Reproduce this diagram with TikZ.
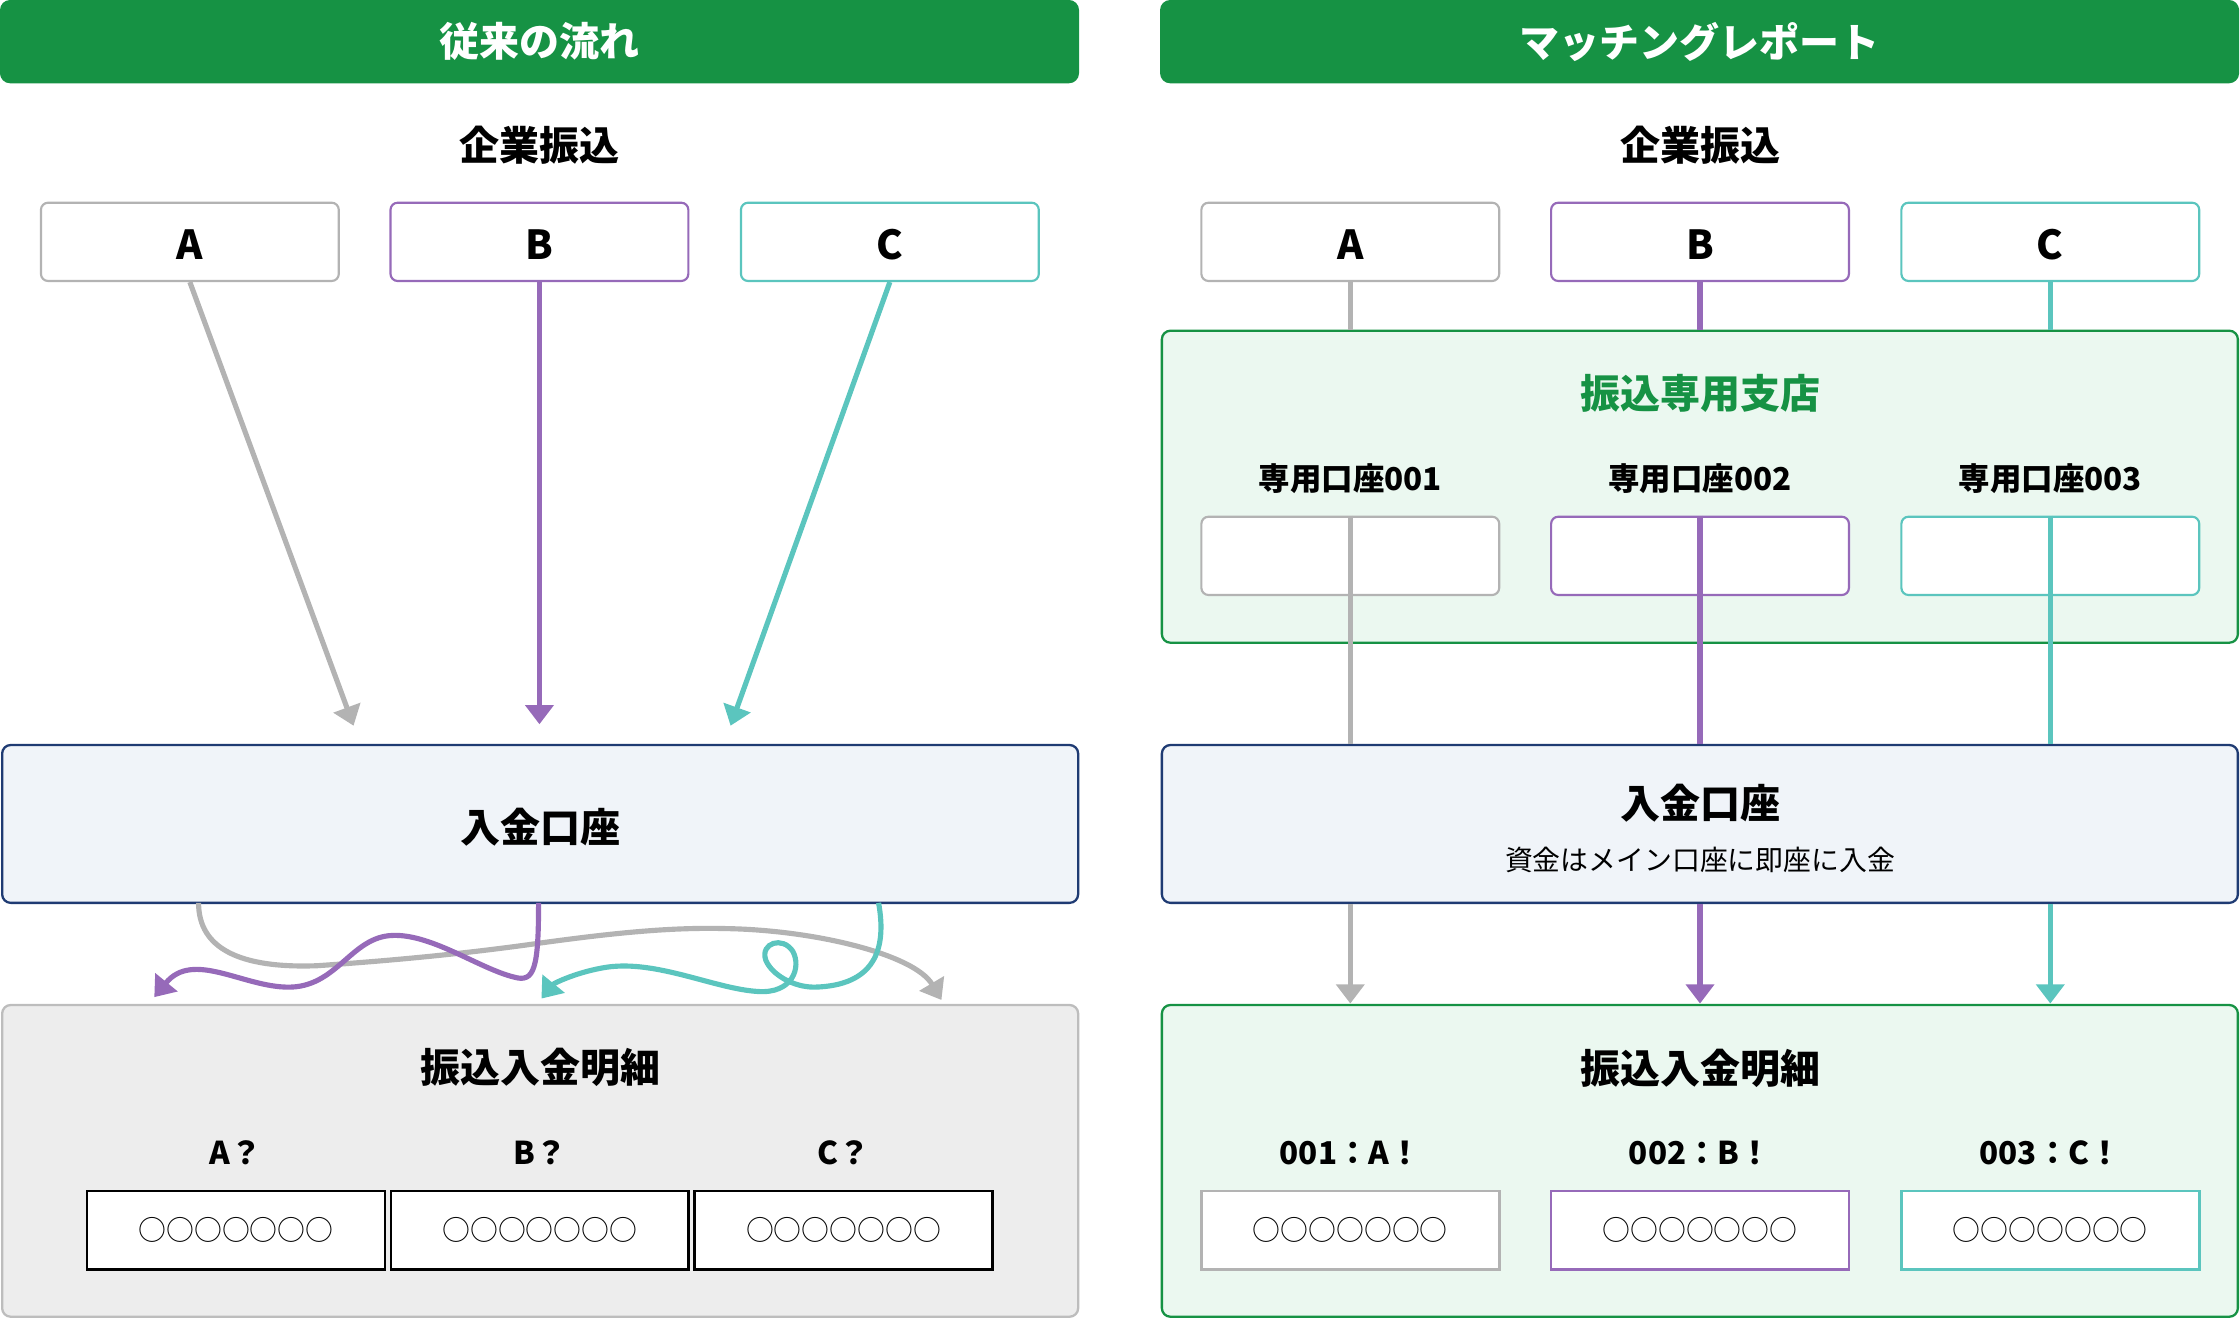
\documentclass[tikz,border=0pt]{standalone}
\usepackage{fontspec}
\setmainfont{Noto Sans CJK JP}
\usetikzlibrary{arrows.meta}
\definecolor{hgreen}{HTML}{169244}
\definecolor{cgray}{HTML}{B3B3B3}
\definecolor{cpurple}{HTML}{966AB9}
\definecolor{cteal}{HTML}{5BC5BE}
\definecolor{cnavy}{HTML}{1F3B73}
\definecolor{fblue}{HTML}{F0F4F9}
\definecolor{fgray}{HTML}{EDEDED}
\definecolor{bgray}{HTML}{BDBDBD}
\definecolor{fgreen}{HTML}{EBF8F0}
\begin{document}
\begin{tikzpicture}[x=1pt,y=-1pt,
  header/.style={fill=hgreen, rounded corners=7pt, minimum width=755.3pt, minimum height=58.3pt, inner sep=0pt, text=white, font=\fontsize{28}{34}\selectfont\bfseries},
  big/.style={font=\fontsize{28}{34}\selectfont\bfseries, inner sep=0pt},
  mid/.style={font=\fontsize{22}{26}\selectfont\bfseries, inner sep=0pt},
  small/.style={font=\fontsize{19.5}{23}\selectfont, inner sep=0pt},
  srcbox/.style={draw=#1, line width=1.5pt, fill=white, rounded corners=5pt, minimum width=208.5pt, minimum height=54.8pt, inner sep=0pt, text height=25pt, text depth=0pt, font=\fontsize{28}{34}\selectfont\bfseries},
  panel/.style 2 args={draw=#1, fill=#2, line width=1.6pt, rounded corners=6pt, minimum width=753.2pt, inner sep=0pt},
  detail/.style={draw=#1, line width=1.9pt, fill=white, minimum width=208.5pt, minimum height=54.8pt, inner sep=0pt, font=\fontsize{19.5}{23}\selectfont},
  flow/.style={draw=#1, line width=3.6pt},
  arr/.style={draw=#1, line width=3.6pt, -{Triangle[length=13.5pt,width=19.5pt]}},
]
\useasboundingbox (0,0) rectangle (1568,922.6);

% ================= LEFT PANEL =================
\node[header] (h1) at (377.65,29.15) {従来の流れ};
\node[big] (k1) at (377.6,101.5) {企業振込};
\node[srcbox=cgray] (a1) at (132.9,169.3) {A};
\node[srcbox=cpurple] (b1) at (377.6,169.3) {B};
\node[srcbox=cteal] (c1) at (622.9,169.3) {C};

\node[panel={cnavy}{fblue}, minimum height=110.5pt] (n1) at (378.1,576.75) {};
\node[big] (n1t) at (378,579) {入金口座};

\node[panel={bgray}{fgray}, minimum height=218.2pt] (m1) at (378.1,812.6) {};
\node[big] (m1t) at (378,747) {振込入金明細};
\node[mid] (qa) at (165.2,807) {A？};
\node[mid] (qb) at (377.85,807) {B？};
\node[mid] (qc) at (590.45,807) {C？};
\node[detail=black] (da) at (165.2,861) {○○○○○○○};
\node[detail=black] (db) at (377.85,861) {○○○○○○○};
\node[detail=black] (dc) at (590.45,861) {○○○○○○○};

\coordinate (ta1) at (247.5,508);
\coordinate (tb1) at (377.6,507);
\coordinate (tc1) at (511.4,508);
\draw[arr=cgray] (a1.south) -- (ta1);
\draw[arr=cpurple] (b1.south) -- (tb1);
\draw[arr=cteal] (c1.south) -- (tc1);

% tangled connectors
\coordinate (gs) at (139,632);
\coordinate (ge) at (659,700);
\coordinate (ps) at (377,632);
\coordinate (pe) at (108,698);
\coordinate (ts) at (615,632);
\coordinate (te) at (379,699);
\draw[arr=cgray] (gs) .. controls (139,664) and (168,678) .. (222,676)
  .. controls (280,672) and (330,667) .. (379,660)
  .. controls (430,653) and (470,649) .. (508,650)
  .. controls (570,651) and (640,668) .. (ge);
\draw[arr=cpurple] (ps) .. controls (377,678) and (374,688) .. (360,684)
  .. controls (335,678) and (300,652) .. (272,655)
  .. controls (245,658) and (235,691) .. (202,691)
  .. controls (170,691) and (135,665) .. (pe);
\draw[arr=cteal] (ts) .. controls (621,665) and (612,690) .. (570,691)
  .. controls (555,691) and (540,682) .. (536,672)
  .. controls (532,660) and (548,655) .. (555,666)
  .. controls (561,677) and (555,696) .. (530,694)
  .. controls (500,692) and (460,672) .. (425,677)
  .. controls (405,680) and (388,688) .. (te);

% ================= RIGHT PANEL =================
\node[header] (h2) at (1189.7,29.15) {マッチングレポート};
\node[big] (k2) at (1190,101.5) {企業振込};
\node[srcbox=cgray] (a2) at (945.2,169.3) {A};
\node[srcbox=cpurple] (b2) at (1190,169.3) {B};
\node[srcbox=cteal] (c2) at (1435.2,169.3) {C};

\node[panel={hgreen}{fgreen}, minimum height=218.4pt] (br) at (1189.9,340.7) {};
\node[big, text=hgreen] (brt) at (1190,275.3) {振込専用支店};
\node[mid] (la) at (945.2,334.8) {専用口座001};
\node[mid] (lb) at (1190,334.8) {専用口座002};
\node[mid] (lc) at (1435.2,334.8) {専用口座003};
\node[srcbox=cgray] (s1) at (945.2,389.1) {};
\node[srcbox=cpurple] (s2) at (1190,389.1) {};
\node[srcbox=cteal] (s3) at (1435.2,389.1) {};

\node[panel={cnavy}{fblue}, minimum height=110.5pt] (n2) at (1189.9,576.75) {};
\node[big] (n2t) at (1190,562.4) {入金口座};
\node[small] (n2s) at (1190,601.9) {資金はメイン口座に即座に入金};

\node[panel={hgreen}{fgreen}, minimum height=218.2pt] (m2) at (1189.9,812.6) {};
\node[big] (m2t) at (1190,747.6) {振込入金明細};
\node[mid] (ra1) at (945.2,807) {001：A！};
\node[mid] (rb1) at (1190,807) {002：B！};
\node[mid] (rc1) at (1435.2,807) {003：C！};
\node[detail=cgray] (ea) at (945.2,861) {○○○○○○○};
\node[detail=cpurple] (eb) at (1190,861) {○○○○○○○};
\node[detail=cteal] (ec) at (1435.2,861) {○○○○○○○};

% company -> branch
\draw[flow=cgray] (a2.south) -- (a2.south |- br.north);
\draw[flow=cpurple] (b2.south) -- (b2.south |- br.north);
\draw[flow=cteal] (c2.south) -- (c2.south |- br.north);
% dedicated account -> deposit account
\draw[flow=cgray] (s1.north) -- (s1.north |- n2.north);
\draw[flow=cpurple] (s2.north) -- (s2.north |- n2.north);
\draw[flow=cteal] (s3.north) -- (s3.north |- n2.north);

\coordinate (ra) at (945.2,702.5);
\coordinate (rb) at (1190,702.5);
\coordinate (rc) at (1435.2,702.5);
\draw[arr=cgray] (ra |- n2.south) -- (ra);
\draw[arr=cpurple] (rb |- n2.south) -- (rb);
\draw[arr=cteal] (rc |- n2.south) -- (rc);
\end{tikzpicture}
\end{document}
